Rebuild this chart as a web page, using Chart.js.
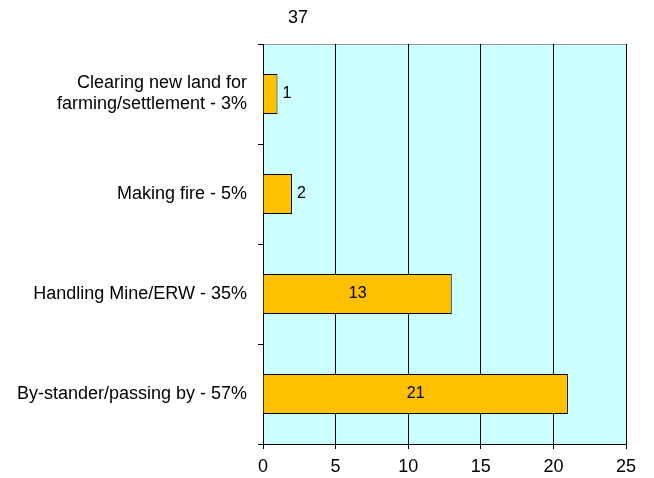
<!DOCTYPE html>
<html>
<head>
<meta charset="utf-8">
<script src="https://cdn.jsdelivr.net/npm/chart.js@4/dist/chart.umd.min.js"></script>
<style>
  html, body { margin: 0; padding: 0; background: #fff; }
  #wrap { width: 654px; height: 478px; }
</style>
</head>
<body>
<div id="wrap"><canvas id="causes"></canvas></div>
<script>
// categories, top to bottom
var labels = [
    ["Clearing new land for", "farming/settlement - 3%"],
    "Making fire - 5%",
    "Handling Mine/ERW - 35%",
    "By-stander/passing by - 57%"
];
var counts = [1, 2, 13, 21];
var xTicks = [0, 5, 10, 15, 20, 25];
var titleText = "37";

var fontName = "'Liberation Sans', Arial, sans-serif";

// fond cyan de la zone de tracé
var plotBg = {
    id: 'plotBg',
    beforeDraw: function (chart) {
        var a = chart.chartArea, c = chart.ctx;
        c.save();
        c.fillStyle = '#CCFFFF';
        c.fillRect(a.left, a.top, a.right - a.left, a.bottom - a.top);
        c.strokeStyle = '#999999';
        c.lineWidth = 1;
        c.beginPath();
        c.moveTo(a.left, a.top + 0.5);
        c.lineTo(a.right, a.top + 0.5);
        c.stroke();
        c.restore();
    }
};

// valeurs sur les barres + titre
var barLabels = {
    id: 'barLabels',
    afterDatasetsDraw: function (chart) {
        var c = chart.ctx;
        var meta = chart.getDatasetMeta(0);
        c.save();
        c.font = '16px ' + fontName;
        c.fillStyle = '#000';
        c.textBaseline = 'middle';
        meta.data.forEach(function (bar, i) {
            var v = counts[i];
            if (v < 5) {
                c.textAlign = 'left';
                c.fillText(v, bar.x + 5, bar.y);
            } else {
                c.textAlign = 'center';
                c.fillText(v, (bar.x + bar.base) / 2, bar.y);
            }
        });
        c.font = '18px ' + fontName;
        c.textAlign = 'center';
        c.fillText(titleText, 298, 18);
        c.restore();
    }
};

var ctx = document.getElementById("causes").getContext("2d");
var chart = new Chart(ctx, {
    type: 'bar',
    data: {
        labels: labels,
        datasets: [{
            data: counts,
            backgroundColor: '#FFC000',
            borderColor: '#000000',
            borderWidth: 1,
            barPercentage: 0.4,
            categoryPercentage: 1
        }]
    },
    options: {
        indexAxis: 'y',
        responsive: true,
        maintainAspectRatio: false,
        animation: false,
        layout: { padding: { top: 44, right: 28, bottom: 0, left: 0 } },
        plugins: {
            legend: { display: false },
            tooltip: { enabled: false }
        },
        scales: {
            x: {
                min: 0,
                max: 25,
                afterBuildTicks: function (axis) {
                    axis.ticks = xTicks.map(function (v) { return { value: v }; });
                },
                afterFit: function (axis) { axis.height = 34; },
                grid: { color: '#000', lineWidth: 1, tickLength: 5, drawTicks: true },
                border: { color: '#000' },
                ticks: { color: '#000', font: { family: fontName, size: 18 }, padding: 7 }
            },
            y: {
                afterFit: function (axis) { axis.width = 263; },
                grid: { offset: true, drawOnChartArea: false, tickLength: 5, color: '#000' },
                border: { color: '#000' },
                ticks: { color: '#000', font: { family: fontName, size: 18, lineHeight: 1.17 }, padding: 11 }
            }
        }
    },
    plugins: [plotBg, barLabels]
});
</script>
</body>
</html>
